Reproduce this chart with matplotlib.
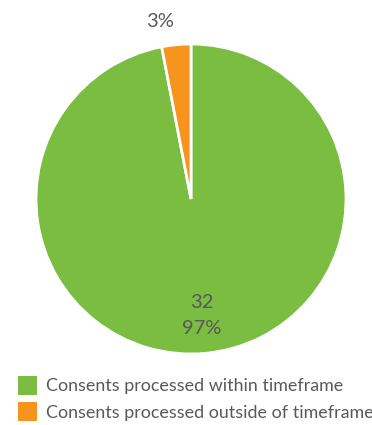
import matplotlib
matplotlib.use("Agg")
import matplotlib.pyplot as plt

categories = ["Consents processed within timeframe", "Consents processed outside of timeframe"]
counts = [32, 1]
percents = ["97%", "3%"]
colors = ["#7ABD40", "#F7941D"]
text_color = "#595959"

plt.rcParams['font.family'] = ['Lato', 'DejaVu Sans']

W, H = 372, 425
fig = plt.figure(figsize=(W / 100, H / 100), dpi=100)
cx, cy, r = 191, 199, 155
ax = fig.add_axes([(cx - r) / W, (H - cy - r) / H, 2 * r / W, 2 * r / H])

idx = [0]
def fmt(p):
    i = idx[0]
    idx[0] += 1
    return f"{counts[i]}\n{percents[i]}" if i == 0 else ""

outer = ["", percents[1]]
wedges, texts, autotexts = ax.pie(
    counts, colors=colors, startangle=90, counterclock=False,
    labels=outer, labeldistance=1.15, autopct=fmt, pctdistance=0.755,
    wedgeprops=dict(edgecolor="white", linewidth=2),
    textprops=dict(color=text_color, fontsize=14.5),
)
for t in autotexts:
    t.set_linespacing(1.6)
ax.set_xlim(-1, 1)
ax.set_ylim(-1, 1)
ax.set_aspect("equal")
ax.axis("off")

leg = fig.legend(
    wedges, categories, loc="upper left",
    bbox_to_anchor=(18 / W, 1 - 375.5 / H), frameon=False,
    borderpad=0, borderaxespad=0, fontsize=12.9,
    handlelength=1.07, handleheight=1.27, handletextpad=0.5,
    labelspacing=0.42, labelcolor=text_color,
)
for h in leg.legend_handles:
    h.set_edgecolor("none")
    h.set_linewidth(0)

fig.savefig("out.png", dpi=100)
